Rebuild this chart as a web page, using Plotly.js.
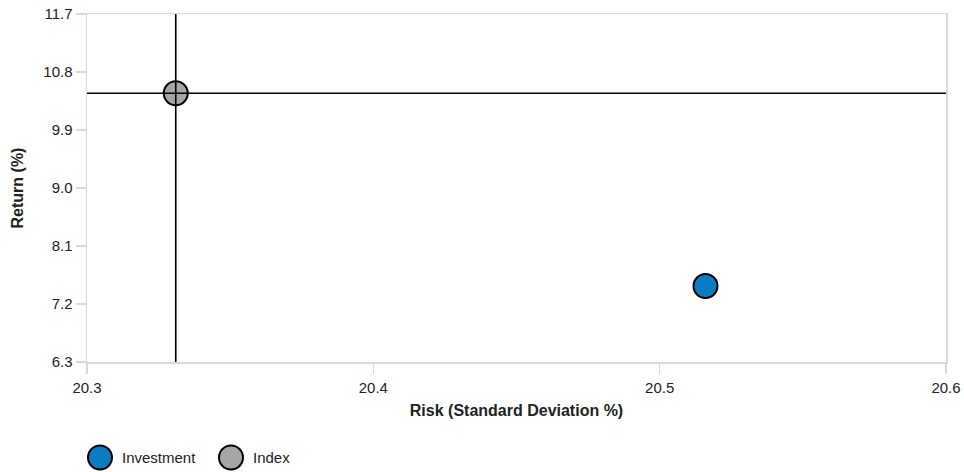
<!DOCTYPE html>
<html><head><meta charset="utf-8">
<script src="https://cdn.plot.ly/plotly-3.0.1.min.js"></script>
<style>body{margin:0;background:#fff}#chart{width:964px;height:472px}</style>
</head><body><div id="chart"></div>
<script>
const seriesNames = ["Investment", "Index"];
const riskValues = [20.516, 20.331];
const returnValues = [7.48, 10.47];
const seriesColors = ["#0a7dc2", "#a6a6a6"];
const xTicks = [20.3, 20.4, 20.5, 20.6];
const yTicks = [6.3, 7.2, 8.1, 9.0, 9.9, 10.8, 11.7];
const yTickLabels = ["6.3", "7.2", "8.1", "9.0", "9.9", "10.8", "11.7"];

const FONT = "Liberation Sans, Arial, sans-serif";
const TXT = "#222";
const traces = seriesNames.map((n, i) => ({
  type: "scatter", mode: "markers", name: n,
  x: [riskValues[i]], y: [returnValues[i]],
  marker: {size: 24, color: seriesColors[i], line: {color: "#000", width: 2}},
  showlegend: false, cliponaxis: false
}));

const idx = seriesNames.indexOf("Index");
const shapes = [
  {type: "line", xref: "x", yref: "paper", x0: riskValues[idx], x1: riskValues[idx], y0: 0, y1: 1, line: {color: "#000", width: 1.6}},
  {type: "line", xref: "paper", yref: "y", x0: 0, x1: 1, y0: returnValues[idx], y1: returnValues[idx], line: {color: "#000", width: 1.6}}
];
const annotations = [];
// custom legend
const legendX = [100, 231];
const legY = -(457.5 - 362) / 348;
seriesNames.forEach((n, i) => {
  const px = (legendX[i] - 87) / (946 - 87);
  shapes.push({type: "circle", xref: "paper", yref: "paper", xsizemode: "pixel", ysizemode: "pixel",
    xanchor: px, yanchor: legY, x0: -12, x1: 12, y0: -12, y1: 12,
    fillcolor: seriesColors[i], line: {color: "#000", width: 2}});
  annotations.push({xref: "paper", yref: "paper", x: (legendX[i] + 20 - 87) / (946 - 87), y: legY,
    xanchor: "left", yanchor: "middle", showarrow: false, text: n, font: {family: FONT, size: 15, color: TXT}});
});

const layout = {
  width: 964, height: 472,
  margin: {l: 87, r: 18, t: 14, b: 110},
  paper_bgcolor: "#fff", plot_bgcolor: "#fff",
  font: {family: FONT, size: 15, color: TXT},
  showlegend: false,
  xaxis: {range: [20.3, 20.6], tickvals: xTicks, ticktext: xTicks.map(v => v.toFixed(1)),
    showgrid: false, zeroline: false, showline: true, mirror: true, linecolor: "#d9d9d9", linewidth: 1.5,
    ticks: "outside", ticklen: 10, tickcolor: "#d9d9d9", tickwidth: 1.5, ticklabelstandoff: 1,
    tickfont: {family: FONT, size: 15, color: TXT},
    title: {text: "<b>Risk (Standard Deviation %)</b>", font: {family: FONT, size: 16, color: TXT}, standoff: 10}},
  yaxis: {range: [6.3, 11.7], tickvals: yTicks, ticktext: yTickLabels,
    showgrid: false, zeroline: false, showline: true, mirror: true, linecolor: "#d9d9d9", linewidth: 1.5,
    ticks: "outside", ticklen: 10, tickcolor: "#d9d9d9", tickwidth: 1.5,
    tickfont: {family: FONT, size: 15, color: TXT},
    title: {text: "<b>Return (%)</b>", font: {family: FONT, size: 16, color: TXT}, standoff: 15}},
  shapes: shapes, annotations: annotations
};
Plotly.newPlot("chart", traces, layout, {displayModeBar: false, staticPlot: true});
</script></body></html>
